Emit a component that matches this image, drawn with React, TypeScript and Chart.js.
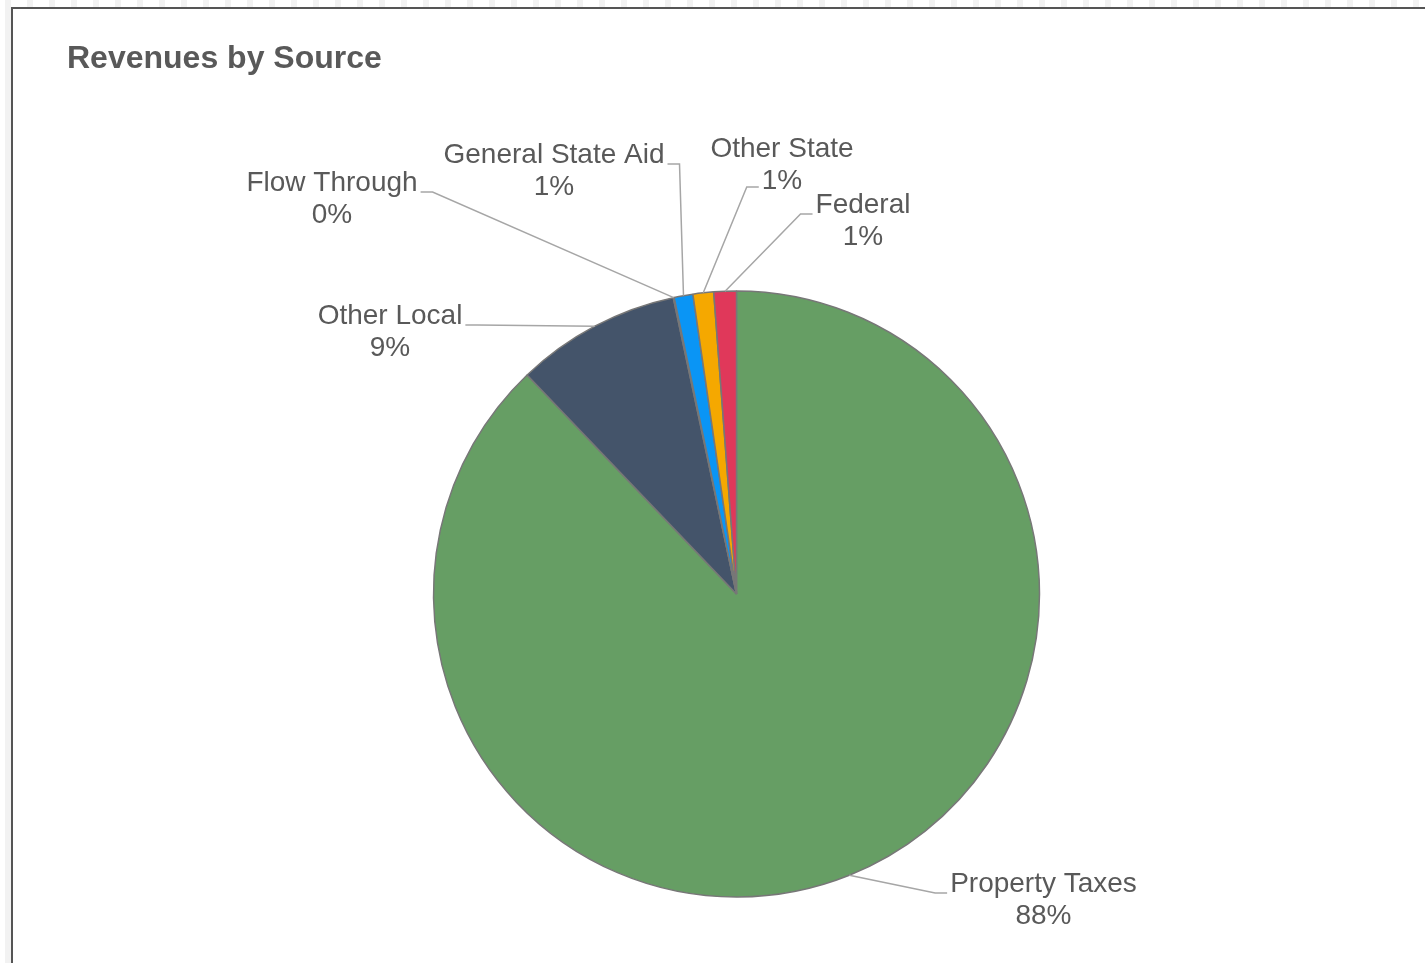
import React, { useEffect, useRef } from 'react';
import { Chart, registerables } from 'chart.js';

Chart.register(...registerables);

const TITLE = 'Revenues by Source';
const categories = ['Property Taxes', 'Other Local', 'Flow Through', 'General State Aid', 'Other State', 'Federal'];
const values = [87.9, 8.8, 0.05, 1.0, 1.1, 1.2];
const colors = ['#669E64', '#44546A', '#A5A5A5', '#0A95F5', '#F5A800', '#E0385A'];

// label placement relative to pie centre (px), which line the leader attaches to
const labelLayout = [
  { dx: 307, dy: 298, side: 'left', line: 0 },
  { dx: -346.5, dy: -270, side: 'right', line: 0 },
  { dx: -404.5, dy: -403, side: 'right', line: 0 },
  { dx: -182.5, dy: -431, side: 'right', line: 0 },
  { dx: 45.5, dy: -437, side: 'left', line: 1 },
  { dx: 126.5, dy: -381, side: 'left', line: 0 },
];

const FONT = '"Liberation Sans", Arial, sans-serif';
const TEXT_COLOR = '#595959';

const labelPlugin = {
  id: 'pieLabels',
  afterDatasetsDraw(chart: any) {
    const ctx = chart.ctx;
    const meta = chart.getDatasetMeta(0);
    const data = chart.data.datasets[0].data as number[];
    const total = data.reduce((a, b) => a + b, 0);
    ctx.save();
    ctx.font = `28px ${FONT}`;
    ctx.textAlign = 'center';
    ctx.textBaseline = 'alphabetic';
    meta.data.forEach((arc: any, i: number) => {
      const { x, y, startAngle, endAngle, outerRadius } = arc.getProps(
        ['x', 'y', 'startAngle', 'endAngle', 'outerRadius'],
        true
      );
      const L = labelLayout[i];
      const mid = (startAngle + endAngle) / 2;
      const px = x + Math.cos(mid) * outerRadius;
      const py = y + Math.sin(mid) * outerRadius;
      const lines = [chart.data.labels[i], Math.round((data[i] / total) * 100) + '%'];
      const bx = x + L.dx;
      const by0 = y + L.dy;
      const lh = 32;
      const w = ctx.measureText(lines[L.line]).width;
      const ax = L.side === 'left' ? bx - w / 2 - 3 : bx + w / 2 + 3;
      const ay = by0 + L.line * lh + (L.line ? -2 : 1);
      const ex = L.side === 'left' ? ax - 12 : ax + 12;
      ctx.strokeStyle = '#A6A6A6';
      ctx.lineWidth = 1.5;
      ctx.beginPath();
      ctx.moveTo(px, py);
      ctx.lineTo(ex, ay);
      ctx.lineTo(ax, ay);
      ctx.stroke();
      ctx.fillStyle = TEXT_COLOR;
      lines.forEach((t, k) => ctx.fillText(t, bx, by0 + k * lh));
    });
    ctx.restore();
  },
};

const titlePlugin = {
  id: 'customTitle',
  afterDraw(chart: any) {
    const ctx = chart.ctx;
    ctx.save();
    ctx.font = `bold 32px ${FONT}`;
    ctx.fillStyle = TEXT_COLOR;
    ctx.textAlign = 'left';
    ctx.textBaseline = 'alphabetic';
    ctx.fillText(TITLE, 54, 59);
    ctx.restore();
  },
};

export default function App() {
  const ref = useRef<HTMLCanvasElement>(null);
  useEffect(() => {
    if (!ref.current) return;
    const chart = new Chart(ref.current, {
      type: 'pie',
      data: {
        labels: categories,
        datasets: [
          {
            data: values,
            backgroundColor: colors,
            borderColor: '#777777',
            borderWidth: 1.5,
            radius: 303,
          } as any,
        ],
      },
      options: {
        animation: false,
        responsive: false,
        devicePixelRatio: 1,
        layout: { padding: { left: 35, top: 216, right: 0, bottom: 0 } },
        plugins: {
          legend: { display: false },
          tooltip: { enabled: false },
          title: { display: false },
        },
      },
      plugins: [labelPlugin, titlePlugin],
    });
    return () => chart.destroy();
  }, []);

  return (
    <div
      style={{
        position: 'fixed',
        left: 0,
        top: 0,
        width: 1425,
        height: 963,
        background: '#fff',
        overflow: 'hidden',
      }}
    >
      <div
        style={{
          position: 'absolute',
          left: 0,
          top: 0,
          width: 1425,
          height: 7,
          backgroundImage:
            'repeating-linear-gradient(90deg, #fff 0px, #fff 5px, #f2f2f2 5px, #f2f2f2 11px, #fff 11px, #fff 22px)',
        }}
      />
      <div style={{ position: 'absolute', left: 5, top: 0, width: 6, height: 963, background: '#f2f2f2' }} />
      <div
        style={{
          position: 'absolute',
          left: 11,
          top: 7,
          width: 1414,
          height: 956,
          borderTop: '2px solid #555555',
          borderLeft: '2px solid #555555',
          background: '#fff',
        }}
      >
        <canvas ref={ref} width={1412} height={954} style={{ display: 'block', width: 1412, height: 954 }} />
      </div>
    </div>
  );
}
